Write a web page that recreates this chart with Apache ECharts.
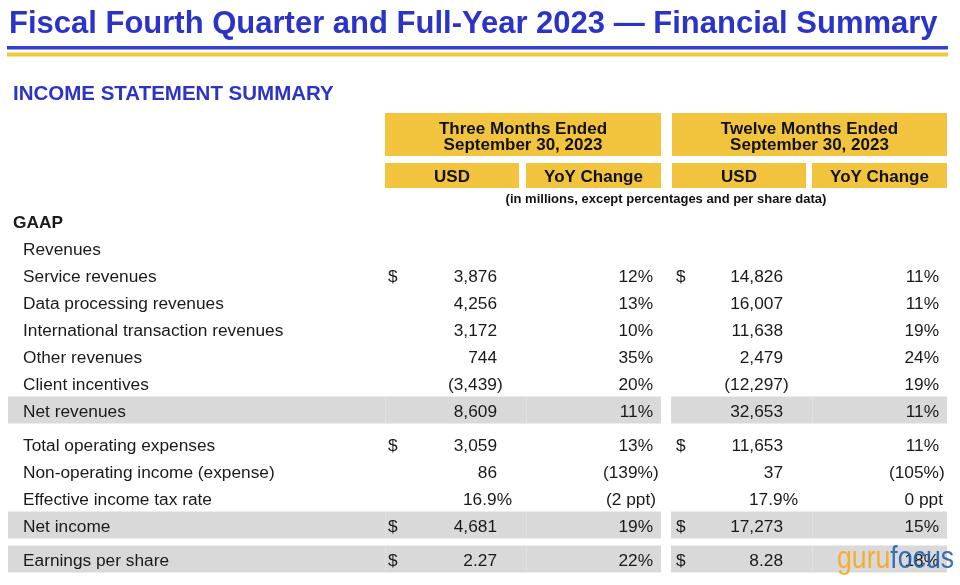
<!DOCTYPE html>
<html>
<head>
<meta charset="utf-8">
<script src="https://cdn.jsdelivr.net/npm/echarts@6/dist/echarts.min.js"></script>
<style>
html,body{margin:0;padding:0;background:#fff;}
#chart{width:960px;height:585px;}
</style>
</head>
<body>
<div id="chart"></div>
<script>
// ---------- DATA ----------
const titleText = 'Fiscal Fourth Quarter and Full-Year 2023 \u2014 Financial Summary';
const sectionTitle = 'INCOME STATEMENT SUMMARY';
const periodTitles = ['Three Months Ended', 'Twelve Months Ended'];
const periodDates = ['September 30, 2023', 'September 30, 2023'];
const subHeaders = ['USD', 'YoY Change'];
const unitNote = '(in millions, except percentages and per share data)';
const rowLabels = ['GAAP', 'Revenues', 'Service revenues', 'Data processing revenues',
  'International transaction revenues', 'Other revenues', 'Client incentives', 'Net revenues',
  'Total operating expenses', 'Non-operating income (expense)', 'Effective income tax rate',
  'Net income', 'Earnings per share'];
const q4Usd = ['', '', '3,876', '4,256', '3,172', '744', '(3,439)', '8,609', '3,059', '86', '16.9%', '4,681', '2.27'];
const q4Yoy = ['', '', '12%', '13%', '10%', '35%', '20%', '11%', '13%', '(139%)', '(2 ppt)', '19%', '22%'];
const fyUsd = ['', '', '14,826', '16,007', '11,638', '2,479', '(12,297)', '32,653', '11,653', '37', '17.9%', '17,273', '8.28'];
const fyYoy = ['', '', '11%', '11%', '19%', '24%', '19%', '11%', '11%', '(105%)', '0 ppt', '15%', '18%'];
const dollarRows = ['Service revenues', 'Total operating expenses', 'Net income', 'Earnings per share'];
const shadedRows = ['Net revenues', 'Net income', 'Earnings per share'];
const boldRows = ['GAAP'];
const watermark = ['guru', 'focus'];

// ---------- LAYOUT / STYLE ----------
const FONT = '"Liberation Sans", Arial, Helvetica, sans-serif';
const BLUE = '#2b34c6';
const YELLOW = '#f2c43d';
const GRAY = '#d9d9d9';
const INK = '#1a1a1a';
const BODY = '17.3px ' + FONT;

function rowY(i) { return 221.5 + 27 * i + (i >= 8 ? 7 : 0) + (i >= 12 ? 7 : 0); }
const TEXT_DY = 1.5;

const periods = [
  { box: [385, 661], sub: [[385, 519], [526, 661]], dollarX: 388, usdR: 497, yoyR: 653, usd: q4Usd, yoy: q4Yoy },
  { box: [672, 947], sub: [[672, 806], [812, 947]], dollarX: 676, usdR: 783, yoyR: 939, usd: fyUsd, yoy: fyYoy }
];

function hang(s, isUsd) {
  if (s.endsWith(')')) return s.indexOf('ppt') >= 0 ? 3 : 5.7;
  if (s.indexOf('ppt') >= 0) return 4;
  if (isUsd && s.endsWith('%')) return 15;
  return 0;
}

const els = [];
function text(x, y, s, font, fill, align) {
  els.push({ type: 'text', x: x, y: y, silent: true,
    style: { text: s, font: font, fill: fill, textAlign: align || 'left', textVerticalAlign: 'middle' } });
}
function rect(x, y, w, h, fill) {
  els.push({ type: 'rect', silent: true, shape: { x: x, y: y, width: w, height: h }, style: { fill: fill } });
}

// title + rules
text(9, 24, titleText, 'bold 31px ' + FONT, BLUE, 'left');
rect(7, 46, 941, 3.5, '#3340d0');
rect(7, 52.5, 941, 4, '#f0c93e');
text(13, 94, sectionTitle, 'bold 20.5px ' + FONT, BLUE, 'left');

// header boxes
periods.forEach(function (p, k) {
  rect(p.box[0], 113, p.box[1] - p.box[0], 43, YELLOW);
  const cx = (p.box[0] + p.box[1]) / 2;
  text(cx, 129, periodTitles[k], 'bold 17px ' + FONT, '#111', 'center');
  text(cx, 145.5, periodDates[k], 'bold 17px ' + FONT, '#111', 'center');
  p.sub.forEach(function (s, j) {
    rect(s[0], 163, s[1] - s[0], 25, YELLOW);
    text((s[0] + s[1]) / 2, 177, subHeaders[j], 'bold 17px ' + FONT, '#111', 'center');
  });
});
text(666, 199, unitNote, 'bold 13px ' + FONT, '#111', 'center');

// shaded bands
rowLabels.forEach(function (lab, i) {
  if (shadedRows.indexOf(lab) < 0) return;
  const y = rowY(i) - 14;
  rect(8, y, 653, 27, GRAY);
  rect(671, y, 276, 27, GRAY);
  [385, 526, 812].forEach(function (sx) { rect(sx, y, 1, 27, '#e2e2e2'); });
});

// rows
rowLabels.forEach(function (lab, i) {
  const y = rowY(i) + TEXT_DY;
  const bold = boldRows.indexOf(lab) >= 0;
  text(bold ? 13 : 23, y, lab, (bold ? 'bold ' : '') + BODY, INK, 'left');
  periods.forEach(function (p) {
    if (dollarRows.indexOf(lab) >= 0) text(p.dollarX, y, '$', BODY, INK, 'left');
    const u = p.usd[i], v = p.yoy[i];
    if (u) text(p.usdR + hang(u, true), y, u, BODY, INK, 'right');
    if (v) text(p.yoyR + hang(v, false), y, v, BODY, INK, 'right');
  });
});

// watermark
els.push({
  type: 'group', x: 837, y: 559.5, scaleX: 0.86, silent: true, children: [
    { type: 'text', x: 0, y: 0, style: { text: watermark[0], font: '31px ' + FONT, fill: '#f7a823', textAlign: 'left', textVerticalAlign: 'middle', opacity: 0.92 } },
    { type: 'text', x: 62, y: 0, style: { text: watermark[1], font: '31px ' + FONT, fill: '#1f5fb0', textAlign: 'left', textVerticalAlign: 'middle', opacity: 0.88 } }
  ]
});

const chart = echarts.init(document.getElementById('chart'), null, { renderer: 'canvas' });
chart.setOption({ backgroundColor: '#ffffff', animation: false, graphic: { elements: els } });
</script>
</body>
</html>
